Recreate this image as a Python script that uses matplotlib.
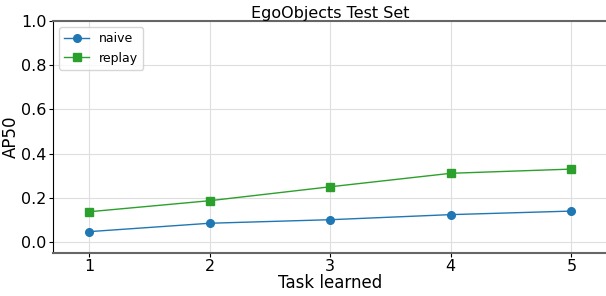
import matplotlib
matplotlib.use('Agg')
from matplotlib import pyplot as plt

tasks = [1, 2, 3, 4, 5]
naive = [0.047, 0.085, 0.101, 0.124, 0.140]
replay = [0.137, 0.187, 0.250, 0.311, 0.330]

fig = plt.figure(figsize=(6.06, 2.96), dpi=100)
ax = fig.add_axes([0.0875, 0.145, 0.915, 0.784])

ax.plot(tasks, naive, marker='o', color='#1f77b4', linewidth=1, markersize=5.5, label='naive')
ax.plot(tasks, replay, marker='s', color='#2ca02c', linewidth=1, markersize=5.5, label='replay')

ax.set_xlim(0.7, 5.3)
ax.set_ylim(-0.05, 1.0)
ax.set_xticks(tasks)
ax.set_yticks([0.0, 0.2, 0.4, 0.6, 0.8, 1.0])
ax.tick_params(labelsize=11.5, length=3, pad=1.5)
ax.grid(True, color='#dedede', linewidth=0.8)

for side in ['top', 'bottom']:
    ax.spines[side].set_color('#666666')
    ax.spines[side].set_linewidth(1.5)
ax.spines['right'].set_visible(False)

ax.set_title('EgoObjects Test Set', fontsize=11.5, pad=2)
ax.set_xlabel('Task learned', fontsize=12, labelpad=0)
ax.set_ylabel('AP50', fontsize=12, labelpad=1)
ax.legend(loc='upper left', fontsize=9)

fig.savefig('out.png', dpi=100)
